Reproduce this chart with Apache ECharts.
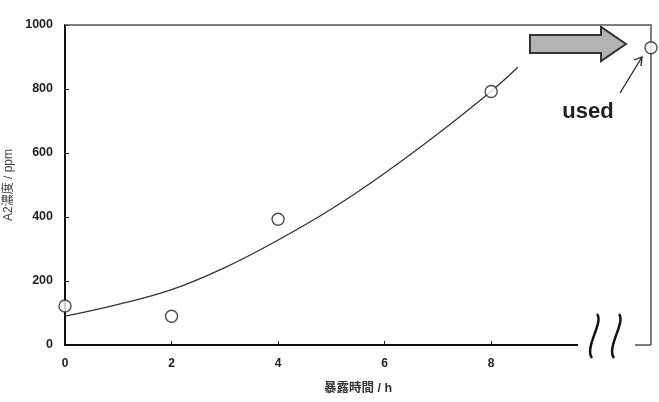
<!DOCTYPE html>
<html><head><meta charset="utf-8">
<script src="https://cdn.jsdelivr.net/npm/echarts@6/dist/echarts.min.js"></script>
<style>html,body{margin:0;padding:0;background:#fff}#c{width:659px;height:402px}</style>
</head><body><div id="c"></div>
<script>
// measured points
const measX = [0, 2, 4, 8];
const measY = [122, 90, 393, 792];
// "used" point (off-scale, placed at the right edge)
const usedX = [11];
const usedY = [929];
// fitted trend curve
const fitX = [0, 1, 2, 3, 4, 5, 6, 7, 8, 8.5];
const fitY = [90, 127, 173, 242, 328, 425, 537, 660, 793, 868];
const xTicks = [0, 2, 4, 6, 8];
const yTicks = [0, 200, 400, 600, 800, 1000];
const xName = '暴露時間 / h';
const yName = 'A2濃度 / ppm';
const usedLabel = 'used';

const chart = echarts.init(document.getElementById('c'), null, {renderer: 'canvas'});
const font = '"Liberation Sans", "Noto Sans CJK JP", sans-serif';
const L = 65, R = 651, T = 25, B = 345;
chart.setOption({
  animation: false,
  grid: {left: L, right: 659 - R, top: T, bottom: 402 - B, containLabel: false, outerBoundsMode: 'none'},
  xAxis: {
    type: 'value', min: 0, max: 11, interval: 2,
    axisLine: {show: false},
    splitLine: {show: false},
    axisTick: {show: true, inside: true, length: 4, customValues: xTicks, lineStyle: {color: '#222', width: 1}},
    axisLabel: {customValues: xTicks, margin: 13, color: '#222', fontWeight: 'bold', fontSize: 12, fontFamily: font},
    name: xName, nameLocation: 'middle', nameGap: 37,
    nameTextStyle: {color: '#333', fontWeight: 'bold', fontSize: 12.5, fontFamily: font}
  },
  yAxis: {
    type: 'value', min: 0, max: 1000, interval: 200,
    axisLine: {show: true, lineStyle: {color: '#111', width: 2}},
    splitLine: {show: false},
    axisTick: {show: true, inside: true, length: 4, customValues: yTicks, lineStyle: {color: '#222', width: 1}},
    axisLabel: {margin: 12, color: '#222', fontWeight: 'bold', fontSize: 12.5, fontFamily: font,
                formatter: v => String(v)},
    name: yName, nameLocation: 'middle', nameGap: 49,
    nameTextStyle: {color: '#444', fontSize: 12, fontFamily: font}
  },
  series: [
    {type: 'line', data: fitX.map((x, i) => [x, fitY[i]]), smooth: 0.4, showSymbol: false,
     lineStyle: {color: '#333', width: 1.3}, z: 2},
    {type: 'scatter', data: measX.map((x, i) => [x, measY[i]]), symbol: 'circle', symbolSize: 12,
     itemStyle: {color: '#fff', borderColor: '#222', borderWidth: 1.4}, z: 3, clip: false},
    {type: 'scatter', data: usedX.map((x, i) => [x, usedY[i]]), symbol: 'circle', symbolSize: 12,
     itemStyle: {color: '#fff', borderColor: '#222', borderWidth: 1.4}, z: 5, clip: false}
  ],
  graphic: [
    // top & right frame
    {type: 'polyline', shape: {points: [[L, T], [R, T], [R, B]]}, style: {stroke: '#555', lineWidth: 1.5, fill: null}, z: 1},
    // bottom axis with break
    {type: 'line', shape: {x1: L - 1, y1: B, x2: 578, y2: B}, style: {stroke: '#111', lineWidth: 2}, z: 1},
    {type: 'line', shape: {x1: 635, y1: B, x2: R, y2: B}, style: {stroke: '#555', lineWidth: 1.5}, z: 1},
    // break marks
    {type: 'bezierCurve', shape: {x1: 597, y1: 314, cpx1: 604, cpy1: 322, cpx2: 584, cpy2: 348, x2: 592, y2: 358}, style: {stroke: '#111', lineWidth: 2.5, fill: null}},
    {type: 'bezierCurve', shape: {x1: 619, y1: 314, cpx1: 626, cpy1: 322, cpx2: 606, cpy2: 348, x2: 614, y2: 358}, style: {stroke: '#111', lineWidth: 2.5, fill: null}},
    // block arrow
    {type: 'polygon', shape: {points: [[530, 35], [601, 35], [601, 27], [626, 44], [601, 61], [601, 53], [530, 53]]},
     style: {fill: '#b3b3b3', stroke: '#333', lineWidth: 2}},
    // small pointer arrow
    {type: 'line', shape: {x1: 620, y1: 93, x2: 642, y2: 57}, style: {stroke: '#222', lineWidth: 1.3}},
    {type: 'polyline', shape: {points: [[634, 60], [642, 57], [641, 66]]}, style: {stroke: '#222', lineWidth: 1.3, fill: null}},
    // label
    {type: 'text', x: 588, y: 112, style: {text: usedLabel, font: 'bold 22px "Liberation Sans", sans-serif', fill: '#222', textAlign: 'center', textVerticalAlign: 'middle'}}
  ]
});
</script></body></html>
